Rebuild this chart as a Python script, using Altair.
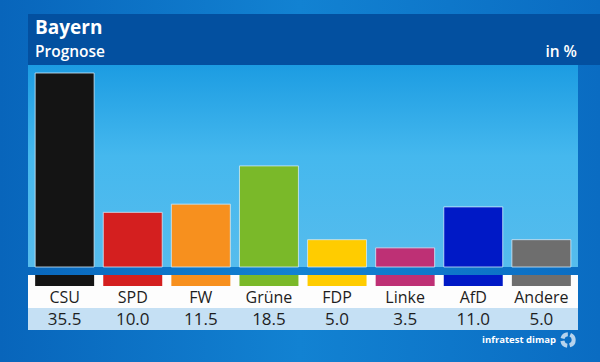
import altair as alt
import pandas as pd

parties = ["CSU", "SPD", "FW", "Grüne", "FDP", "Linke", "AfD", "Andere"]
values = [35.5, 10.0, 11.5, 18.5, 5.0, 3.5, 11.0, 5.0]
labels = ["35.5", "10.0", "11.5", "18.5", "5.0", "3.5", "11.0", "5.0"]
colors = ["#141414", "#d41f1f", "#f7901e", "#7ab929", "#ffcc00", "#be3075", "#0019c6", "#6e6e6e"]

df = pd.DataFrame({"party": parties, "value": values, "label": labels})
one = pd.DataFrame({"a": [0]})
FONT = "Open Sans"

xs = alt.X("party:N", sort=parties, axis=None,
           scale=alt.Scale(range=[28, 578], paddingInner=0.134, paddingOuter=0.105))
col = alt.Color("party:N", sort=parties, legend=None,
                scale=alt.Scale(domain=parties, range=colors))

base = alt.Chart(one)

bg = base.mark_rect(color=alt.LinearGradient(
    gradient="linear", x1=0, x2=1, y1=0, y2=0,
    stops=[alt.GradientStop(color="#0865bb", offset=0),
           alt.GradientStop(color="#1282d2", offset=0.5),
           alt.GradientStop(color="#0a6cc2", offset=1)])).encode(
    x=alt.value(0), x2=alt.value(600), y=alt.value(0), y2=alt.value(362))

header = base.mark_rect(color="#0350a0").encode(
    x=alt.value(28), x2=alt.value(600), y=alt.value(14), y2=alt.value(65))

plotarea = base.mark_rect(color=alt.LinearGradient(
    gradient="linear", x1=0, x2=0, y1=0, y2=1,
    stops=[alt.GradientStop(color="#1c9ce2", offset=0),
           alt.GradientStop(color="#45b8ee", offset=0.45),
           alt.GradientStop(color="#56bced", offset=1)])).encode(
    x=alt.value(28), x2=alt.value(578), y=alt.value(65), y2=alt.value(267))

white = base.mark_rect(color="#fdfdfd").encode(
    x=alt.value(28), x2=alt.value(578), y=alt.value(275), y2=alt.value(308))

valstrip = base.mark_rect(color="#c5e0f4").encode(
    x=alt.value(28), x2=alt.value(578), y=alt.value(308), y2=alt.value(330))

data = alt.Chart(df)

bars = data.mark_bar(stroke="#cfeafa", strokeWidth=1, strokeOpacity=0.8).encode(
    x=xs,
    y=alt.Y("value:Q", axis=None, scale=alt.Scale(domain=[0, 35.5], range=[267, 73])),
    y2=alt.value(267),
    color=col)

strips = data.mark_bar().encode(x=xs, y=alt.value(275), y2=alt.value(286), color=col)

names = data.mark_text(font=FONT, fontSize=16, fontWeight=500, color="#1e1e1e",
                       baseline="alphabetic").encode(
    x=xs, y=alt.value(303), text="party:N")

nums = data.mark_text(font=FONT, fontSize=17, fontWeight=500, color="#1e1e1e",
                      baseline="alphabetic").encode(
    x=xs, y=alt.value(324.5), text="label:N")

title = base.mark_text(text="Bayern", font=FONT, fontSize=19, fontWeight="bold",
                       color="white", align="left", baseline="alphabetic").encode(
    x=alt.value(35), y=alt.value(34))
subtitle = base.mark_text(text="Prognose", font=FONT, fontSize=15.5, fontWeight=600,
                          color="white", align="left", baseline="alphabetic").encode(
    x=alt.value(35), y=alt.value(57))
unit = base.mark_text(text="in %", font=FONT, fontSize=15.5, fontWeight=600,
                      color="white", align="right", baseline="alphabetic").encode(
    x=alt.value(577), y=alt.value(57))
source = base.mark_text(text="infratest dimap", font=FONT, fontSize=9.5, fontWeight="bold",
                        color="white", align="right", baseline="alphabetic").encode(
    x=alt.value(556), y=alt.value(343))
logo = base.mark_point(shape="circle", filled=False, size=130, strokeWidth=4,
                       color="white", strokeDash=[7, 2.5]).encode(
    x=alt.value(568), y=alt.value(340))

chart = alt.layer(bg, header, plotarea, white, valstrip, bars, strips, names, nums,
                  title, subtitle, unit, source, logo).properties(
    width=600, height=362, autosize=alt.AutoSizeParams(type="none"), padding=0
).configure_view(strokeWidth=0).configure(background="#0a6cc2")

chart.save("out.html", embed_options={"renderer": "svg", "actions": False})
